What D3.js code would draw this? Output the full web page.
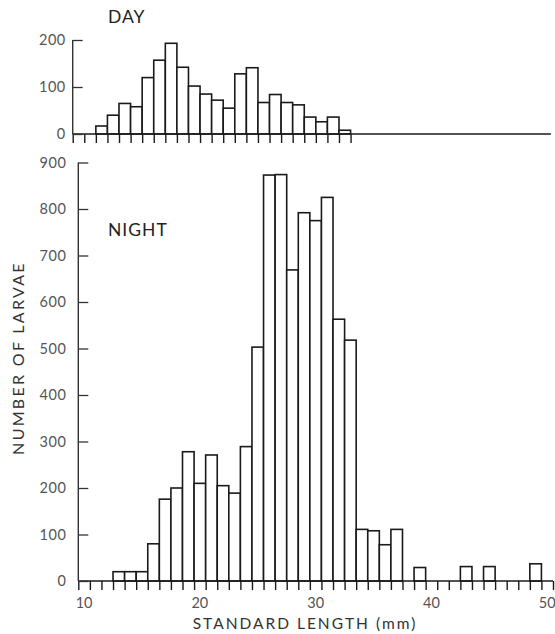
<!DOCTYPE html>
<html>
<head>
<meta charset="utf-8">
<script src="https://cdn.jsdelivr.net/npm/d3@7"></script>
<style>
  html, body { margin: 0; padding: 0; background: #fff; }
  svg { display: block; }
  text { font-family: "Lato", "Open Sans", sans-serif; }
</style>
</head>
<body>
<svg id="chart" width="555" height="634"></svg>
<script>
// Bins are 1 mm wide, centred on integer standard lengths (mm)
const dayBins   = [12, 13, 14, 15, 16, 17, 18, 19, 20, 21, 22, 23, 24, 25, 26, 27, 28, 29, 30, 31, 32, 33];
const dayCounts = [17, 40, 65, 58, 120, 157, 193, 142, 102, 85, 72, 55, 128, 141, 67, 84, 67, 62, 36, 26, 36, 8];

const nightBins   = [13, 14, 15, 16, 17, 18, 19, 20, 21, 22, 23, 24, 25, 26, 27, 28, 29, 30, 31, 32, 33, 34, 35, 36, 37, 39, 43, 45, 49];
const nightCounts = [20, 20, 20, 80, 176, 200, 278, 210, 271, 205, 189, 289, 503, 873, 874, 669, 792, 775, 825, 563, 518, 111, 108, 78, 111, 29, 31, 31, 37];

const xTickLabels   = [10, 20, 30, 40, 50];
const dayYTicks     = [0, 100, 200];
const nightYTicks   = [0, 100, 200, 300, 400, 500, 600, 700, 800, 900];

const svg = d3.select("#chart");
const ink = "#1a1a1a";
const axisInk = "#333";
const labelInk = "#555";

// ---------- scales ----------
const xNight = d3.scaleLinear().domain([9.5, 50.5]).range([78.3, 553]);
const yNight = d3.scaleLinear().domain([0, 900]).range([581, 162.5]);
const xDay   = d3.scaleLinear().domain([9.5, 50.5]).range([72.7, 547.4]);
const yDay   = d3.scaleLinear().domain([0, 200]).range([134, 40]);

function drawPanel(g, x, y, bins, counts, yTicks, xTickMax, lineMax, xLabels, pad) {
  // bars
  g.selectAll("rect.bar")
    .data(bins.map((b, i) => ({ b, c: counts[i] })))
    .join("rect")
    .attr("class", "bar")
    .attr("x", d => x(d.b - 0.5))
    .attr("width", d => x(d.b + 0.5) - x(d.b - 0.5))
    .attr("y", d => y(d.c))
    .attr("height", d => y(0) - y(d.c))
    .attr("fill", "#fff")
    .attr("stroke", ink)
    .attr("stroke-width", 1.6);

  // x axis (ticks at bin edges, pointing down)
  const xTickVals = d3.range(9.5, xTickMax + 0.01, 1);
  const xAxis = d3.axisBottom(x).tickValues(xTickVals).tickSize(9).tickFormat("");
  const gx = g.append("g").attr("transform", `translate(0,${y(0)})`).call(xAxis);
  gx.select(".domain").remove();
  gx.selectAll(".tick line").attr("stroke", ink).attr("stroke-width", 1.4);
  g.append("line")
    .attr("x1", x(9.5)).attr("x2", x(lineMax))
    .attr("y1", y(0)).attr("y2", y(0))
    .attr("stroke", ink).attr("stroke-width", 1.4);

  // y axis (ticks pointing inward)
  const yAxis = d3.axisLeft(y).tickValues(yTicks).tickSize(-10).tickPadding(pad).tickFormat(d3.format("d"));
  const gy = g.append("g").attr("transform", `translate(${x(9.5)},0)`).call(yAxis);
  gy.select(".domain").remove();
  gy.selectAll(".tick line").attr("stroke", axisInk).attr("stroke-width", 1.3);
  gy.selectAll(".tick text")
    .attr("fill", labelInk)
    .attr("font-size", 14.5)
    .attr("letter-spacing", 0.5)
    .style("font-family", "Lato, 'Open Sans', sans-serif");
  g.append("line")
    .attr("x1", x(9.5)).attr("x2", x(9.5))
    .attr("y1", y(yTicks[yTicks.length - 1])).attr("y2", y(0))
    .attr("stroke", axisInk).attr("stroke-width", 1.4);

  if (xLabels) {
    g.append("g").selectAll("text")
      .data(xLabels)
      .join("text")
      .attr("x", d => x(d))
      .attr("y", y(0) + 27)
      .attr("text-anchor", "middle")
      .attr("fill", labelInk)
      .attr("font-size", 14.5)
      .text(d => d);
  }
}

drawPanel(svg.append("g"), xDay, yDay, dayBins, dayCounts, dayYTicks, 33.5, 50.8, null, 7);
drawPanel(svg.append("g"), xNight, yNight, nightBins, nightCounts, nightYTicks, 50.5, 50.5, xTickLabels, 12);

// panel labels
svg.append("text").attr("x", 108).attr("y", 23)
  .attr("font-size", 17.5).attr("fill", "#222").attr("letter-spacing", 1)
  .text("DAY");
svg.append("text").attr("x", 108).attr("y", 236)
  .attr("font-size", 17.5).attr("fill", "#222").attr("letter-spacing", 1)
  .text("NIGHT");

// axis titles
svg.append("text")
  .attr("x", 305).attr("y", 629)
  .attr("text-anchor", "middle")
  .attr("font-size", 15.5).attr("fill", "#333").attr("letter-spacing", 2)
  .text("STANDARD LENGTH (mm)");
svg.append("text")
  .attr("transform", "translate(24,358) rotate(-90)")
  .attr("text-anchor", "middle")
  .attr("font-size", 16).attr("fill", "#333").attr("letter-spacing", 2.3)
  .text("NUMBER OF LARVAE");
</script>
</body>
</html>
